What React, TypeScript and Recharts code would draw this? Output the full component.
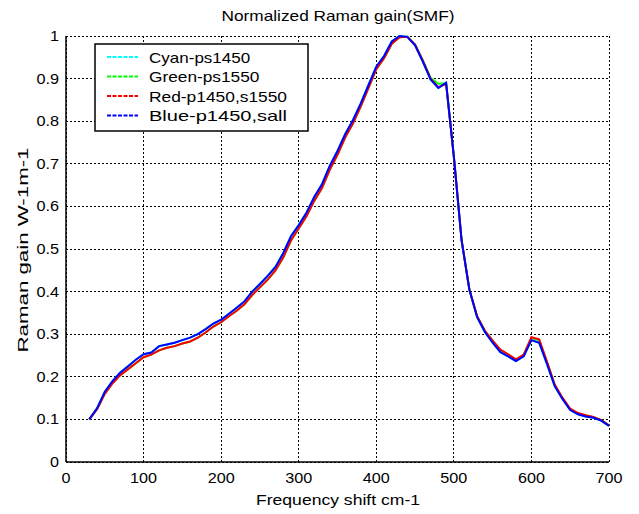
import React from 'react';
import { LineChart, Line, XAxis, YAxis, CartesianGrid } from 'recharts';

// Frequency shift (cm-1) sample points
const shift = [
  30, 40, 50, 60, 70, 80, 90, 100, 110, 120, 130, 140, 150, 160, 170, 180, 190, 200,
  210, 220, 230, 240, 250, 260, 270, 280, 290, 300, 310, 320, 330, 340, 350, 360, 370,
  380, 390, 400, 410, 420, 430, 440, 450, 460, 470, 480, 490, 500, 510, 520, 530, 540,
  550, 560, 570, 580, 590, 600, 610, 620, 630, 640, 650, 660, 670, 680, 690, 700,
];

// Blue-p1450,sall
const blueGain = [
  0.100, 0.126, 0.165, 0.190, 0.210, 0.225, 0.240, 0.253, 0.257, 0.272, 0.276, 0.280,
  0.286, 0.292, 0.300, 0.312, 0.325, 0.334, 0.348, 0.362, 0.377, 0.400, 0.418, 0.437,
  0.458, 0.490, 0.530, 0.556, 0.585, 0.622, 0.652, 0.695, 0.730, 0.770, 0.803, 0.842,
  0.885, 0.928, 0.953, 0.987, 1.000, 0.998, 0.978, 0.940, 0.898, 0.878, 0.890, 0.717,
  0.520, 0.405, 0.340, 0.305, 0.280, 0.258, 0.248, 0.237, 0.248, 0.286, 0.280, 0.230,
  0.178, 0.148, 0.122, 0.112, 0.107, 0.104, 0.097, 0.085,
];

// Red-p1450,s1550
const redGain = [
  0.100, 0.124, 0.160, 0.185, 0.204, 0.218, 0.232, 0.246, 0.252, 0.262, 0.268, 0.272,
  0.278, 0.283, 0.292, 0.304, 0.318, 0.328, 0.342, 0.355, 0.370, 0.392, 0.410, 0.428,
  0.450, 0.480, 0.520, 0.548, 0.577, 0.613, 0.643, 0.686, 0.721, 0.762, 0.795, 0.835,
  0.878, 0.922, 0.948, 0.982, 0.997, 0.998, 0.980, 0.942, 0.900, 0.880, 0.888, 0.717,
  0.520, 0.405, 0.342, 0.308, 0.285, 0.264, 0.253, 0.241, 0.252, 0.293, 0.288, 0.236,
  0.182, 0.151, 0.125, 0.115, 0.110, 0.106, 0.098, 0.086,
];

// Green-ps1550
const greenGain = [
  0.100, 0.124, 0.160, 0.185, 0.204, 0.218, 0.232, 0.246, 0.252, 0.262, 0.268, 0.272,
  0.278, 0.283, 0.292, 0.304, 0.318, 0.328, 0.342, 0.355, 0.370, 0.392, 0.410, 0.428,
  0.450, 0.480, 0.520, 0.548, 0.577, 0.613, 0.643, 0.686, 0.721, 0.762, 0.795, 0.835,
  0.878, 0.922, 0.948, 0.982, 0.997, 0.998, 0.980, 0.943, 0.902, 0.888, 0.889, 0.717,
  0.520, 0.405, 0.342, 0.308, 0.285, 0.263, 0.252, 0.240, 0.251, 0.291, 0.286, 0.235,
  0.181, 0.150, 0.124, 0.114, 0.109, 0.105, 0.098, 0.086,
];

// Cyan-ps1450
const cyanGain = [
  0.100, 0.126, 0.165, 0.190, 0.210, 0.225, 0.240, 0.253, 0.257, 0.272, 0.276, 0.280,
  0.286, 0.292, 0.300, 0.312, 0.325, 0.334, 0.348, 0.362, 0.377, 0.400, 0.418, 0.437,
  0.458, 0.490, 0.530, 0.556, 0.585, 0.622, 0.652, 0.695, 0.730, 0.770, 0.803, 0.842,
  0.885, 0.928, 0.953, 0.987, 1.000, 0.998, 0.978, 0.940, 0.898, 0.878, 0.890, 0.717,
  0.520, 0.405, 0.340, 0.305, 0.280, 0.258, 0.248, 0.237, 0.248, 0.286, 0.280, 0.230,
  0.178, 0.148, 0.122, 0.112, 0.107, 0.104, 0.097, 0.085,
];

const xTicks = [0, 100, 200, 300, 400, 500, 600, 700];
const yTicks = [0, 0.1, 0.2, 0.3, 0.4, 0.5, 0.6, 0.7, 0.8, 0.9, 1];

const seriesNames = ['Cyan-ps1450', 'Green-ps1550', 'Red-p1450,s1550', 'Blue-p1450,sall'];
const seriesColors = ['#00ffff', '#00ff00', '#ff0000', '#0000ff'];

const data = shift.map((f, i) => ({
  f,
  cyan: cyanGain[i],
  green: greenGain[i],
  red: redGain[i],
  blue: blueGain[i],
}));

const FONT = '"Liberation Sans", Arial, sans-serif';

// the old plot font is wider than Arial, so stretch text to its measured width
const textWidth = (s: string) =>
  s.split('').reduce((w, c) => w + (c === '.' || c === ',' ? 4.6 : 9), 0);

const yLabel = (v: number) => (v === 0 ? '0' : v === 1 ? '1' : v.toFixed(1));

const XTick = ({ x, payload }: any) => {
  const s = String(payload.value);
  return (
    <text x={x} y={478} textAnchor="middle" dominantBaseline="central" fontSize={14}
      fontFamily={FONT} fill="#000" textLength={textWidth(s)} lengthAdjust="spacingAndGlyphs">
      {s}
    </text>
  );
};

const YTick = ({ y, payload }: any) => {
  const s = yLabel(payload.value);
  return (
    <text x={59} y={y} textAnchor="end" dominantBaseline="central" fontSize={14}
      fontFamily={FONT} fill="#000" textLength={textWidth(s)} lengthAdjust="spacingAndGlyphs">
      {s}
    </text>
  );
};

export default function App() {
  return (
    <div style={{ position: 'absolute', left: 0, top: 0, width: 639, height: 514, background: '#fff' }}>
      <LineChart width={639} height={514} data={data} margin={{ top: 36, right: 30, bottom: 0, left: 0 }}>
        <CartesianGrid stroke="#000" strokeDasharray="2 2" strokeWidth={1} shapeRendering="crispEdges" />
        <XAxis dataKey="f" type="number" domain={[0, 700]} ticks={xTicks} height={52}
          axisLine={{ stroke: '#000', strokeWidth: 1.5 }} tickLine={false} tick={<XTick />} />
        <XAxis xAxisId="top" orientation="top" dataKey="f" type="number" domain={[0, 700]}
          height={0} axisLine={{ stroke: '#000', strokeWidth: 1.5 }} tick={false} tickLine={false} />
        <YAxis type="number" domain={[0, 1]} ticks={yTicks} width={66}
          axisLine={{ stroke: '#000', strokeWidth: 1.5 }} tickLine={false} tick={<YTick />} />
        <YAxis yAxisId="right" orientation="right" type="number" domain={[0, 1]} width={0}
          axisLine={{ stroke: '#000', strokeWidth: 1.5 }} tick={false} tickLine={false} />
        <Line dataKey="cyan" stroke={seriesColors[0]} strokeWidth={2} dot={false} type="linear" isAnimationActive={false} />
        <Line dataKey="green" stroke={seriesColors[1]} strokeWidth={2} dot={false} type="linear" isAnimationActive={false} />
        <Line dataKey="red" stroke={seriesColors[2]} strokeWidth={2} dot={false} type="linear" isAnimationActive={false} />
        <Line dataKey="blue" stroke={seriesColors[3]} strokeWidth={2} dot={false} type="linear" isAnimationActive={false} />
      </LineChart>

      {/* title, axis labels and legend box */}
      <svg width={639} height={514} style={{ position: 'absolute', left: 0, top: 0, pointerEvents: 'none' }}
        fontFamily={FONT} fill="#000">
        <text x={338} y={20.5} textAnchor="middle" fontSize={15} textLength={233} lengthAdjust="spacingAndGlyphs">
          Normalized Raman gain(SMF)
        </text>
        <text x={338} y={505} textAnchor="middle" fontSize={15} textLength={164} lengthAdjust="spacingAndGlyphs">
          Frequency shift cm-1
        </text>
        <text x={0} y={0} textAnchor="middle" fontSize={14.5} textLength={205} lengthAdjust="spacingAndGlyphs"
          transform="translate(28, 250) rotate(-90)">
          Raman gain W-1m-1
        </text>

        <rect x={95} y={44} width={213} height={87} fill="#fff" stroke="#000" strokeWidth={1.5} />
        {seriesNames.map((name, i) => {
          const cy = 57 + i * 19.5;
          return (
            <g key={name}>
              <line x1={107} x2={138} y1={cy} y2={cy} stroke={seriesColors[i]} strokeWidth={2}
                strokeDasharray="4 1.5" />
              <text x={149} y={cy} dominantBaseline="central" fontSize={15}
                textLength={name.length * 9.2} lengthAdjust="spacingAndGlyphs">
                {name}
              </text>
            </g>
          );
        })}
      </svg>
    </div>
  );
}
